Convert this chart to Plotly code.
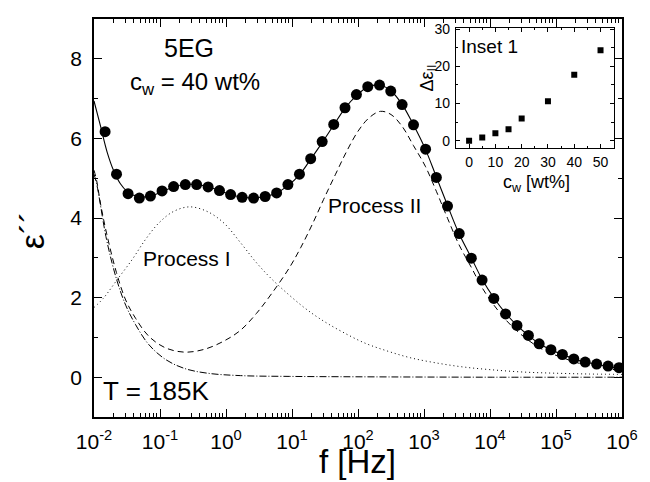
import numpy as np
import plotly.graph_objects as go

# ---------------- data ----------------
# measured points: log10(f/Hz) and eps''
log_f_points = [-1.832, -1.659, -1.484, -1.313, -1.145, -0.969, -0.794, -0.616, -0.445, -0.271,
                -0.099, 0.070, 0.245, 0.418, 0.593, 0.767, 0.938, 1.113, 1.283, 1.457,
                1.632, 1.803, 1.976, 2.148, 2.326, 2.496, 2.668, 2.841, 3.024, 3.187,
                3.356, 3.534, 3.717, 3.880, 4.058, 4.236, 4.409, 4.582, 4.745, 4.923,
                5.097, 5.270, 5.442, 5.616, 5.789, 5.953]
eps_points = [6.17, 5.10, 4.61, 4.50, 4.55, 4.68, 4.79, 4.84, 4.84, 4.78,
              4.69, 4.59, 4.52, 4.50, 4.54, 4.63, 4.84, 5.10, 5.49, 5.92,
              6.35, 6.77, 7.10, 7.30, 7.34, 7.19, 6.85, 6.34, 5.73, 5.02,
              4.30, 3.61, 2.99, 2.44, 1.98, 1.59, 1.30, 1.05, 0.84, 0.69,
              0.57, 0.46, 0.38, 0.33, 0.28, 0.24]

# total fit (solid)
log_f_fit = [-2.0, -1.9, -1.8, -1.7, -1.6, -1.5, -1.4, -1.3, -1.15, -0.97,
             -0.79, -0.62, -0.45, -0.27, -0.10, 0.07, 0.25, 0.42, 0.59, 0.77,
             0.94, 1.11, 1.28, 1.46, 1.63, 1.80, 1.98, 2.15, 2.33, 2.50,
             2.67, 2.84, 3.02, 3.19, 3.36, 3.53, 3.72, 3.88, 4.06, 4.24,
             4.41, 4.58, 4.75, 4.92, 5.10, 5.27, 5.44, 5.62, 5.79, 5.95, 6.0]
eps_fit = [6.94, 6.30, 5.65, 5.18, 4.86, 4.67, 4.57, 4.53, 4.55, 4.66,
           4.78, 4.84, 4.84, 4.78, 4.69, 4.59, 4.52, 4.50, 4.54, 4.63,
           4.82, 5.08, 5.47, 5.90, 6.33, 6.75, 7.08, 7.29, 7.34, 7.19,
           6.85, 6.34, 5.73, 5.02, 4.30, 3.61, 2.99, 2.46, 1.99, 1.60,
           1.30, 1.05, 0.84, 0.69, 0.57, 0.46, 0.38, 0.32, 0.27, 0.23, 0.22]

# Process II (+ conductivity), dashed
log_f_p2 = [-2.0, -1.96, -1.9, -1.81, -1.66, -1.52, -1.37, -1.17, -0.92, -0.63,
            -0.33, -0.03, 0.22, 0.46, 0.70, 0.96, 1.13, 1.31, 1.48, 1.66,
            1.83, 2.00, 2.17, 2.34, 2.50, 2.67, 2.84, 3.02, 3.19, 3.36,
            3.53, 3.72, 3.88, 4.06, 4.24, 4.41, 4.58, 4.75, 4.92, 5.10,
            5.27, 5.44, 5.62, 5.79, 6.0]
eps_p2 = [5.20, 4.94, 4.35, 3.62, 2.63, 1.94, 1.48, 1.03, 0.74, 0.63,
          0.70, 0.91, 1.18, 1.60, 2.12, 2.75, 3.25, 3.85, 4.47, 5.10,
          5.68, 6.18, 6.52, 6.68, 6.60, 6.30, 5.82, 5.30, 4.66, 3.98,
          3.33, 2.75, 2.25, 1.81, 1.44, 1.16, 0.93, 0.74, 0.60, 0.49,
          0.39, 0.31, 0.26, 0.21, 0.17]

# Process I, dotted
log_f_p1 = [-2.0, -1.86, -1.64, -1.42, -1.22, -1.02, -0.80, -0.55, -0.28, -0.03,
            0.22, 0.46, 0.69, 0.96, 1.20, 1.45, 1.75, 2.10, 2.44, 2.79,
            3.18, 3.58, 4.0, 4.5, 5.0, 5.5, 6.0]
eps_p1 = [1.75, 1.98, 2.47, 2.96, 3.46, 3.87, 4.16, 4.28, 4.16, 3.87,
          3.38, 2.88, 2.47, 2.06, 1.73, 1.44, 1.15, 0.86, 0.66, 0.49,
          0.36, 0.26, 0.19, 0.13, 0.10, 0.08, 0.07]

# conductivity, dash-dot
log_f_cond = [-2.0, -1.96, -1.81, -1.66, -1.52, -1.37, -1.17, -0.92, -0.63, -0.28,
              0.22, 0.96, 2.0, 4.0, 6.0]
eps_cond = [5.10, 4.86, 3.46, 2.47, 1.81, 1.32, 0.82, 0.45, 0.22, 0.10,
            0.04, 0.02, 0.01, 0.0, 0.0]

# inset
inset_cw = [0, 5, 10, 15, 20, 30, 40, 50]
inset_deps = [0.0, 0.9, 2.0, 3.1, 6.0, 10.6, 17.7, 24.3]

x_tickvals = [1e-2, 1e-1, 1e0, 1e1, 1e2, 1e3, 1e4, 1e5, 1e6]
x_ticktext = ["10<sup>-2</sup>", "10<sup>-1</sup>", "10<sup>0</sup>", "10<sup>1</sup>",
              "10<sup>2</sup>", "10<sup>3</sup>", "10<sup>4</sup>", "10<sup>5</sup>",
              "10<sup>6</sup>"]

# ---------------- figure ----------------
W, H = 650, 482
ML, MR, MT, MB = 94, 17, 15, 65
PW, PH = W - ML - MR, H - MT - MB


def px(x):
    return (x - ML) / PW


def py(y):
    return (H - MB - y) / PH


def f(vals):
    return [10 ** v for v in vals]


FONT = "Liberation Sans, Arial, Helvetica, sans-serif"

fig = go.Figure()
fig.add_trace(go.Scatter(x=f(log_f_cond), y=eps_cond, mode="lines",
                         line=dict(color="black", width=1, dash="7px,2px,1px,2px", shape="spline"),
                         showlegend=False, hoverinfo="skip"))
fig.add_trace(go.Scatter(x=f(log_f_p1), y=eps_p1, mode="lines",
                         line=dict(color="black", width=1, dash="1px,3px", shape="spline"),
                         showlegend=False, hoverinfo="skip"))
fig.add_trace(go.Scatter(x=f(log_f_p2), y=eps_p2, mode="lines",
                         line=dict(color="black", width=1, dash="6px,4px", shape="spline"),
                         showlegend=False, hoverinfo="skip"))
fig.add_trace(go.Scatter(x=f(log_f_fit), y=eps_fit, mode="lines",
                         line=dict(color="black", width=1.1, shape="spline"),
                         showlegend=False, hoverinfo="skip"))
fig.add_trace(go.Scatter(x=f(log_f_points), y=eps_points, mode="markers",
                         marker=dict(color="black", size=11, symbol="circle"),
                         showlegend=False, hoverinfo="skip"))

fig.add_trace(go.Scatter(x=inset_cw, y=inset_deps, mode="markers",
                         marker=dict(color="black", size=6, symbol="square"),
                         xaxis="x2", yaxis="y2", showlegend=False, hoverinfo="skip"))

# inset domain (pixels -> paper)
ix0, ix1, iy0, iy1 = 463.5, 624.5, 24, 145.5

fig.update_layout(
    width=W, height=H,
    margin=dict(l=ML, r=MR, t=MT, b=MB),
    paper_bgcolor="white", plot_bgcolor="white",
    font=dict(family=FONT, color="black", size=21),
    xaxis=dict(type="log", range=[-2, 6], tickvals=x_tickvals, ticktext=x_ticktext,
               ticks="inside", ticklen=8, tickwidth=1.2, tickcolor="black",
               minor=dict(ticks="inside", ticklen=4, tickwidth=1, tickcolor="black", dtick="D1"),
               showline=True, linecolor="black", linewidth=1.6, mirror="ticks",
               showgrid=False, zeroline=False, ticklabelstandoff=5,
               tickfont=dict(size=21, family=FONT)),
    yaxis=dict(range=[-1, 9], tick0=0, dtick=2,
               ticks="inside", ticklen=8, tickwidth=1.2, tickcolor="black",
               minor=dict(ticks="inside", ticklen=4, tickwidth=1, tickcolor="black", dtick=1),
               showline=True, linecolor="black", linewidth=1.6, mirror="ticks",
               showgrid=False, zeroline=False, ticklabelstandoff=6,
               tickfont=dict(size=21, family=FONT)),
    xaxis2=dict(domain=[px(ix0), px(ix1)], anchor="y2", range=[-5, 55], tick0=0, dtick=10,
                ticks="inside", ticklen=4, tickwidth=1, tickcolor="black",
                minor=dict(ticks="inside", ticklen=2.5, tickwidth=1, tickcolor="black", dtick=5),
                showline=True, linecolor="black", linewidth=1, mirror="ticks",
                showgrid=False, zeroline=False, ticklabelstandoff=1,
                tickfont=dict(size=14, family=FONT)),
    yaxis2=dict(domain=[py(iy1), py(iy0)], anchor="x2", range=[-2, 30.3], tick0=0, dtick=10,
                ticks="inside", ticklen=4, tickwidth=1, tickcolor="black",
                minor=dict(ticks="inside", ticklen=2.5, tickwidth=1, tickcolor="black", dtick=5),
                showline=True, linecolor="black", linewidth=1, mirror="ticks",
                showgrid=False, zeroline=False, ticklabelstandoff=2,
                tickfont=dict(size=14, family=FONT)),
)

# white background behind inset
fig.add_shape(type="rect", xref="paper", yref="paper",
              x0=px(ix0), x1=px(ix1), y0=py(iy1), y1=py(iy0),
              fillcolor="white", line=dict(width=0), layer="below")


def ann(text, x, y, size, angle=0):
    fig.add_annotation(text=text, xref="paper", yref="paper", x=px(x), y=py(y),
                       xanchor="center", yanchor="middle", showarrow=False,
                       textangle=angle, font=dict(size=size, family=FONT, color="black"))


ann("5EG", 191, 44, 25)
ann("c<sub>w</sub> = 40 wt%", 197, 80, 24)
ann("Process I", 189, 257, 21)
ann("Process II", 380, 203, 21)
ann("T = 185K", 157, 391, 26)
ann("Inset 1", 498, 43, 19)
ann("c<sub>w</sub> [wt%]", 546, 181, 18)
ann("Δε<sub>II</sub>", 435, 75, 18, angle=-90)
ann("f [Hz]", 363, 462, 33)
ann("ε´´", 31, 228, 34, angle=-90)

fig.write_html("out.html")
